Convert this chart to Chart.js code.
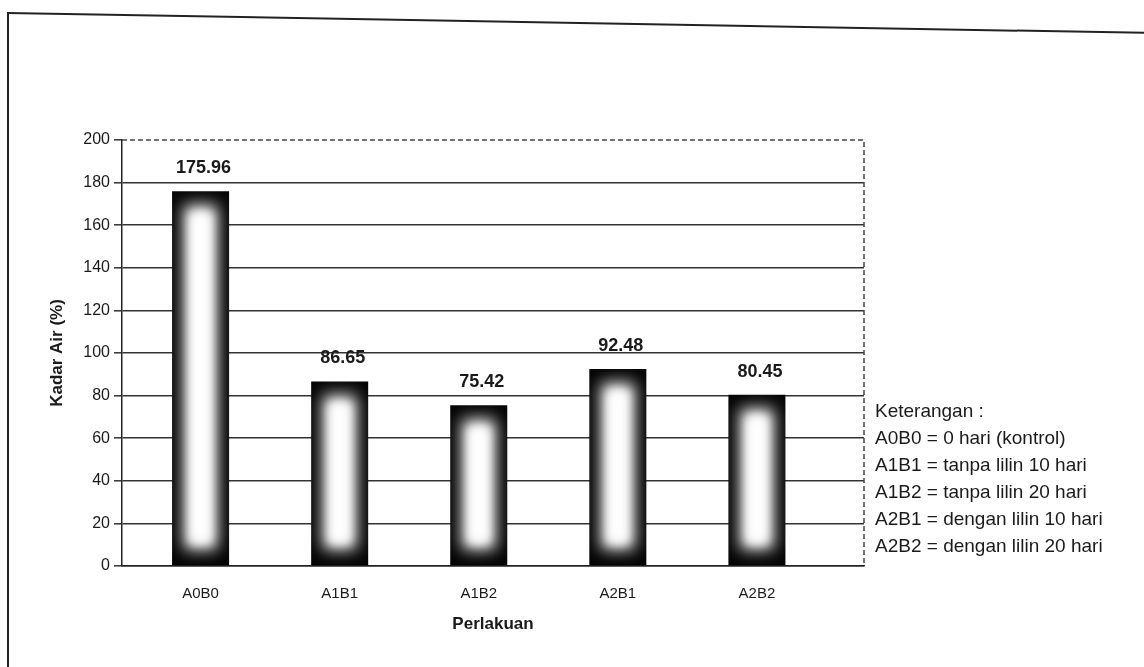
<!DOCTYPE html>
<html>
<head>
<meta charset="utf-8">
<script src="https://cdn.jsdelivr.net/npm/chart.js@4/dist/chart.umd.min.js"></script>
<style>
  html, body { margin: 0; padding: 0; background: #fff; }
  #wrap { position: relative; width: 1144px; height: 667px; overflow: hidden; background: #fff; }
  #c { position: absolute; left: 0; top: 0; }
  .frame-left { position: absolute; left: 7px; top: 12px; width: 2px; height: 670px; background: #222; }
  .frame-top { position: absolute; left: 7px; top: 12px; width: 1145px; height: 2px; background: #222;
               transform-origin: 0 0; transform: rotate(1.0deg); }
  #notes { position: absolute; left: 875px; top: 397px; font: 19px "Liberation Sans", Arial, sans-serif;
           color: #1a1a1a; line-height: 27px; white-space: nowrap; }
</style>
</head>
<body>
<div id="wrap">
  <div class="frame-left"></div>
  <div class="frame-top"></div>
  <canvas id="c" width="1144" height="667"></canvas>
  <div id="notes"></div>
</div>
<script>
// Perlakuan (treatments) and measured water content
const categories = ['A0B0', 'A1B1', 'A1B2', 'A2B1', 'A2B2'];
const kadarAir = [175.96, 86.65, 75.42, 92.48, 80.45];

// Y axis range
const yMin = 0;
const yMax = 200;
const yStep = 20;

// Explanation of the treatment codes
const notes = [
  'Keterangan :',
  'A0B0 = 0 hari (kontrol)',
  'A1B1 = tanpa lilin 10 hari',
  'A1B2 = tanpa lilin 20 hari',
  'A2B1 = dengan lilin 10 hari',
  'A2B2 = dengan lilin 20 hari'
];

document.getElementById('notes').innerHTML = notes.map(t => '<div>' + t + '</div>').join('');

Chart.defaults.font.family = '"Liberation Sans", Arial, sans-serif';
Chart.defaults.color = '#1a1a1a';

// Black bar with a soft white glow in the middle
const glowPlugin = {
  id: 'glow',
  afterDatasetDraw(chart, args) {
    const ctx = chart.ctx;
    args.meta.data.forEach(el => {
      const { x, y, base, width } = el.getProps(['x', 'y', 'base', 'width'], true);
      const left = x - width / 2;
      const h = base - y;
      ctx.save();
      ctx.beginPath();
      ctx.rect(left, y, width, h);
      ctx.clip();
      ctx.filter = 'blur(8px)';
      ctx.fillStyle = '#ffffff';
      ctx.fillRect(left + 12, y + 14, width - 24, h - 30);
      ctx.filter = 'blur(4px)';
      ctx.fillStyle = 'rgba(255,255,255,0.8)';
      ctx.fillRect(left + 18, y + 22, width - 36, h - 44);
      ctx.restore();
    });
  }
};

// Value written above each bar
const valueLabels = {
  id: 'valueLabels',
  afterDatasetsDraw(chart) {
    const ctx = chart.ctx;
    const meta = chart.getDatasetMeta(0);
    ctx.save();
    ctx.font = 'bold 18px "Liberation Sans", Arial, sans-serif';
    ctx.fillStyle = '#1a1a1a';
    ctx.textAlign = 'center';
    ctx.textBaseline = 'middle';
    meta.data.forEach((el, i) => {
      ctx.fillText(kadarAir[i].toFixed(2), el.x + 3, el.y - 23);
    });
    ctx.restore();
  }
};

// Dashed outline on the top and right of the plot area
const plotFrame = {
  id: 'plotFrame',
  beforeDatasetsDraw(chart) {
    const { ctx, chartArea: a } = chart;
    ctx.save();
    ctx.strokeStyle = '#444';
    ctx.lineWidth = 1.5;
    ctx.setLineDash([5, 3]);
    ctx.beginPath();
    ctx.moveTo(a.left, a.top);
    ctx.lineTo(a.right, a.top);
    ctx.lineTo(a.right, a.bottom);
    ctx.stroke();
    ctx.restore();
  }
};

new Chart(document.getElementById('c'), {
  type: 'bar',
  data: {
    datasets: [{
      data: kadarAir.map((v, i) => ({ x: i, y: v })),
      backgroundColor: '#050505',
      borderWidth: 0,
      barPercentage: 0.41,
      categoryPercentage: 1
    }]
  },
  options: {
    responsive: false,
    animation: false,
    devicePixelRatio: 1,
    layout: { padding: { left: 47, top: 140, right: 280, bottom: 32 } },
    plugins: { legend: { display: false }, tooltip: { enabled: false } },
    scales: {
      x: {
        type: 'linear',
        offset: false,
        min: -0.565,
        max: 4.77,
        afterBuildTicks(scale) { scale.ticks = categories.map((_, i) => ({ value: i })); },
        afterFit(scale) { scale.height = 69; },
        grid: { display: false, offset: false },
        border: { display: true, color: '#222', width: 1.5 },
        ticks: {
          autoSkip: false,
          maxRotation: 0,
          padding: 11,
          font: { size: 15 },
          color: '#1a1a1a',
          callback: v => categories[v]
        },
        title: {
          display: true,
          text: 'Perlakuan',
          font: { size: 17, weight: 'bold' },
          color: '#1a1a1a',
          padding: 0
        }
      },
      y: {
        min: yMin,
        max: yMax,
        afterFit(scale) { scale.width = 75; },
        grid: {
          color: c => (c.tick && c.tick.value === yMax) ? 'rgba(0,0,0,0)' : '#333',
          lineWidth: 1.6,
          tickLength: 8,
          tickColor: '#333',
          tickWidth: 1.5
        },
        border: { display: true, color: '#222', width: 1.5 },
        ticks: { stepSize: yStep, padding: 4, font: { size: 16 }, color: '#1a1a1a' },
        title: {
          display: true,
          text: 'Kadar Air (%)',
          font: { size: 17, weight: 'bold' },
          color: '#1a1a1a',
          padding: 0
        }
      }
    }
  },
  plugins: [plotFrame, glowPlugin, valueLabels]
});
</script>
</body>
</html>
